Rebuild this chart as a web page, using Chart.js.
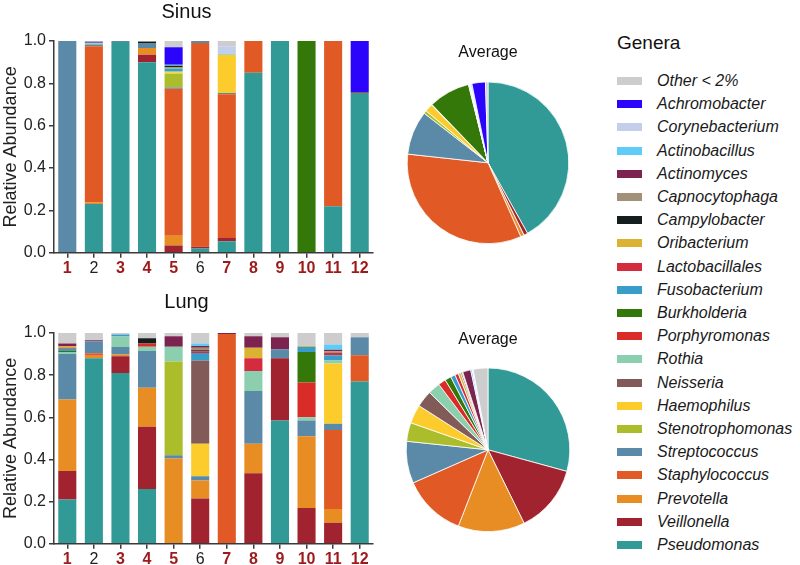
<!DOCTYPE html>
<html>
<head>
<meta charset="utf-8">
<script src="https://cdn.jsdelivr.net/npm/chart.js@4"></script>
<style>
  body { margin: 0; width: 800px; height: 565px; overflow: hidden; background: #fff;
         font-family: "Liberation Sans", Arial, sans-serif; position: relative; }
  .box { position: absolute; }
  #legendTitle { position: absolute; left: 617px; top: 32px; font-size: 19px; color: #111; }
  .item { position: absolute; left: 617px; height: 20px; }
  .item span.sw { position: absolute; left: 0; top: 6px; width: 25px; height: 8px; }
  .item span.tx { position: absolute; left: 40px; top: 0; font-size: 16px; font-style: italic;
                  color: #1a1a1a; white-space: nowrap; line-height: 20px; }
</style>
</head>
<body>
<div class="box" style="left:0;top:0;width:380px;height:280px"><canvas id="sinus"></canvas></div>
<div class="box" style="left:0;top:290px;width:380px;height:281px"><canvas id="lung"></canvas></div>
<div class="box" style="left:400px;top:43px;width:176px;height:201px"><canvas id="sinusPie"></canvas></div>
<div class="box" style="left:400px;top:330px;width:176px;height:202px"><canvas id="lungPie"></canvas></div>
<div id="legendTitle">Genera</div>
<div id="legend"></div>

<script>
// stacking order, bottom to top
const genera = [
  "Pseudomonas", "Veillonella", "Prevotella", "Staphylococcus", "Streptococcus",
  "Stenotrophomonas", "Haemophilus", "Neisseria", "Rothia", "Porphyromonas",
  "Burkholderia", "Fusobacterium", "Lactobacillales", "Oribacterium", "Campylobacter",
  "Capnocytophaga", "Actinomyces", "Actinobacillus", "Corynebacterium", "Achromobacter",
  "Other < 2%"
];
const colors = [
  "#329a96", "#a0232f", "#e88c24", "#e15a25", "#5b8aa8",
  "#abbd2b", "#fbcc2b", "#825b58", "#8ccfae", "#d92b27",
  "#35780a", "#3a9cc9", "#d42b3e", "#dcb232", "#141e1c",
  "#a09178", "#7c2350", "#5fcbf7", "#c3cfea", "#2b04fb",
  "#cdcdcd"
];
const samples = ["1", "2", "3", "4", "5", "6", "7", "8", "9", "10", "11", "12"];
const plainSamples = ["2", "6"];
const yTicks = [0, 0.2, 0.4, 0.6, 0.8, 1.0];

// one row per genus (same order as genera), one value per sample
const sinusValues = [
  [0, 0.23, 0.995, 0.90, 0, 0.02, 0.055, 0.85, 1, 0, 0.22, 0.755],
  [0, 0, 0, 0.035, 0.035, 0.008, 0.015, 0, 0, 0, 0, 0.003],
  [0, 0.008, 0, 0.032, 0.045, 0, 0, 0, 0, 0, 0, 0],
  [0, 0.737, 0, 0, 0.695, 0.962, 0.678, 0.15, 0, 0, 0.78, 0],
  [1, 0.008, 0.005, 0.023, 0.005, 0.01, 0.007, 0, 0, 0, 0, 0],
  [0, 0.005, 0, 0, 0.065, 0, 0, 0, 0, 0, 0, 0],
  [0, 0, 0, 0, 0.008, 0, 0.18, 0, 0, 0, 0, 0],
  [0, 0, 0, 0, 0, 0, 0, 0, 0, 0, 0, 0],
  [0, 0.004, 0, 0, 0.005, 0, 0, 0, 0, 0, 0, 0],
  [0, 0, 0, 0, 0, 0, 0, 0, 0, 0, 0, 0],
  [0, 0, 0, 0, 0, 0, 0, 0, 0, 1, 0, 0],
  [0, 0, 0, 0, 0.012, 0, 0, 0, 0, 0, 0, 0],
  [0, 0, 0, 0, 0, 0, 0, 0, 0, 0, 0, 0],
  [0, 0, 0, 0, 0.005, 0, 0, 0, 0, 0, 0, 0],
  [0, 0, 0, 0.005, 0.008, 0, 0, 0, 0, 0, 0, 0],
  [0, 0, 0, 0.005, 0, 0, 0, 0, 0, 0, 0, 0],
  [0, 0, 0, 0, 0, 0, 0, 0, 0, 0, 0, 0],
  [0, 0, 0, 0, 0.005, 0, 0.005, 0, 0, 0, 0, 0],
  [0, 0, 0, 0, 0, 0, 0.035, 0, 0, 0, 0, 0],
  [0, 0.005, 0, 0, 0.082, 0, 0, 0, 0, 0, 0, 0.242],
  [0, 0.003, 0, 0, 0.03, 0, 0.025, 0, 0, 0, 0, 0]
];

const lungValues = [
  [0.21, 0.88, 0.81, 0.26, 0, 0, 0, 0, 0.585, 0, 0, 0.77],
  [0.135, 0, 0.08, 0.295, 0, 0.215, 0, 0.335, 0.295, 0.17, 0.10, 0],
  [0.34, 0.012, 0.008, 0.185, 0.405, 0.085, 0, 0.14, 0, 0.34, 0.065, 0],
  [0, 0.012, 0, 0, 0, 0, 0.995, 0, 0, 0, 0.375, 0.125],
  [0.215, 0.057, 0.035, 0.175, 0.015, 0.02, 0, 0.25, 0.043, 0.075, 0.03, 0.085],
  [0, 0, 0, 0, 0.445, 0, 0, 0, 0, 0, 0, 0],
  [0, 0, 0, 0, 0, 0.155, 0, 0, 0, 0, 0.285, 0],
  [0, 0, 0, 0, 0, 0.395, 0, 0, 0, 0, 0, 0],
  [0.01, 0, 0.05, 0.02, 0.07, 0, 0, 0.095, 0, 0.015, 0.015, 0],
  [0, 0, 0, 0.015, 0, 0, 0, 0, 0, 0.165, 0, 0],
  [0.005, 0, 0, 0, 0, 0, 0, 0, 0, 0.145, 0, 0],
  [0.01, 0, 0.01, 0, 0, 0.035, 0, 0, 0, 0.025, 0.025, 0],
  [0.005, 0, 0, 0, 0, 0.008, 0, 0.06, 0, 0, 0.01, 0],
  [0.008, 0, 0, 0, 0, 0, 0, 0.05, 0, 0.005, 0, 0],
  [0, 0, 0, 0.025, 0, 0.005, 0, 0, 0, 0, 0, 0],
  [0, 0, 0, 0, 0, 0.012, 0, 0, 0, 0, 0.008, 0],
  [0.012, 0.005, 0, 0, 0.05, 0.008, 0.005, 0.055, 0.057, 0, 0.007, 0],
  [0, 0, 0, 0, 0, 0.012, 0, 0, 0, 0, 0.025, 0],
  [0, 0, 0, 0, 0, 0, 0, 0, 0, 0, 0, 0],
  [0, 0, 0, 0, 0, 0, 0, 0, 0, 0, 0, 0],
  [0.05, 0.034, 0.007, 0.025, 0.015, 0.05, 0, 0.015, 0.02, 0.06, 0.055, 0.02]
];

// average pies (same genus order)
const sinusAverage = [0.419, 0.008, 0.007, 0.334, 0.088, 0.006, 0.016, 0, 0.001, 0,
  0.083, 0.001, 0, 0.0005, 0.001, 0.0005, 0, 0.001, 0.003, 0.027, 0.005];
const lungAverage = [0.293, 0.135, 0.132, 0.125, 0.083, 0.037, 0.037, 0.033, 0.024, 0.015,
  0.0125, 0.009, 0.007, 0.005, 0.0025, 0.0017, 0.016, 0.003, 0.001, 0.001, 0.029];

const axisColor = "#3a3a3a";
const font = "'Liberation Sans', Arial, sans-serif";
Chart.defaults.font.family = font;

function barChart(id, title, values, titlePad) {
  const datasets = genera.map((g, i) => ({
    label: g,
    data: values[i],
    backgroundColor: colors[i],
    borderWidth: 0,
    barPercentage: 0.68,
    categoryPercentage: 1,
  }));

  return new Chart(document.getElementById(id), {
    type: "bar",
    data: { labels: samples, datasets: datasets },
    options: {
      responsive: true,
      maintainAspectRatio: false,
      animation: false,
      layout: { padding: { top: 0, right: 7, bottom: 1, left: 0 } },
      plugins: {
        legend: { display: false },
        tooltip: { enabled: false },
        title: {
          display: true,
          text: title,
          color: "#111",
          font: { size: 20, weight: "normal" },
          padding: { top: 0, bottom: titlePad },
        },
      },
      scales: {
        x: {
          stacked: true,
          grid: { offset: false, drawOnChartArea: false, tickLength: 5, color: axisColor, lineWidth: 1.5 },
          border: { color: axisColor, width: 1.5 },
          ticks: {
            padding: 1,
            color: (ctx) => (plainSamples.includes(samples[ctx.index]) ? "#222" : "#9e1a1a"),
            font: (ctx) => ({
              size: 16,
              weight: plainSamples.includes(samples[ctx.index]) ? "normal" : "bold",
            }),
          },
        },
        y: {
          stacked: true,
          min: 0,
          max: 1,
          afterBuildTicks: (scale) => {
            scale.ticks = yTicks.map((v) => ({ value: v }));
          },
          afterFit: (scale) => {
            scale.width = 54;
          },
          grid: { drawOnChartArea: false, tickLength: 5, color: axisColor, lineWidth: 1.5 },
          border: { color: axisColor, width: 1.5 },
          ticks: {
            padding: 3,
            color: "#222",
            font: { size: 16 },
            callback: (v) => Number(v).toFixed(1),
          },
          title: {
            display: true,
            text: "Relative Abundance",
            color: "#222",
            font: { size: 18 },
            padding: 0,
          },
        },
      },
    },
  });
}

function pieChart(id, values, titlePad) {
  return new Chart(document.getElementById(id), {
    type: "pie",
    data: {
      labels: genera,
      datasets: [{ data: values, backgroundColor: colors, borderColor: "#fff", borderWidth: 0.8 }],
    },
    options: {
      responsive: true,
      maintainAspectRatio: false,
      animation: false,
      layout: { padding: 0 },
      plugins: {
        legend: { display: false },
        tooltip: { enabled: false },
        title: {
          display: true,
          text: "Average",
          color: "#111",
          font: { size: 16, weight: "normal" },
          padding: { top: 0, bottom: titlePad },
        },
      },
    },
  });
}

function buildLegend() {
  const legend = document.getElementById("legend");
  const order = genera.map((g, i) => i).reverse();
  order.forEach((gi, row) => {
    const item = document.createElement("div");
    item.className = "item";
    item.style.top = (81 + row * 23.2 - 10) + "px";
    const sw = document.createElement("span");
    sw.className = "sw";
    sw.style.background = colors[gi];
    const tx = document.createElement("span");
    tx.className = "tx";
    tx.textContent = genera[gi];
    item.appendChild(sw);
    item.appendChild(tx);
    legend.appendChild(item);
  });
}

barChart("sinus", "Sinus", sinusValues, 17);
barChart("lung", "Lung", lungValues, 19);
pieChart("sinusPie", sinusAverage, 19.4);
pieChart("lungPie", lungAverage, 18.4);
buildLegend();
</script>
</body>
</html>
